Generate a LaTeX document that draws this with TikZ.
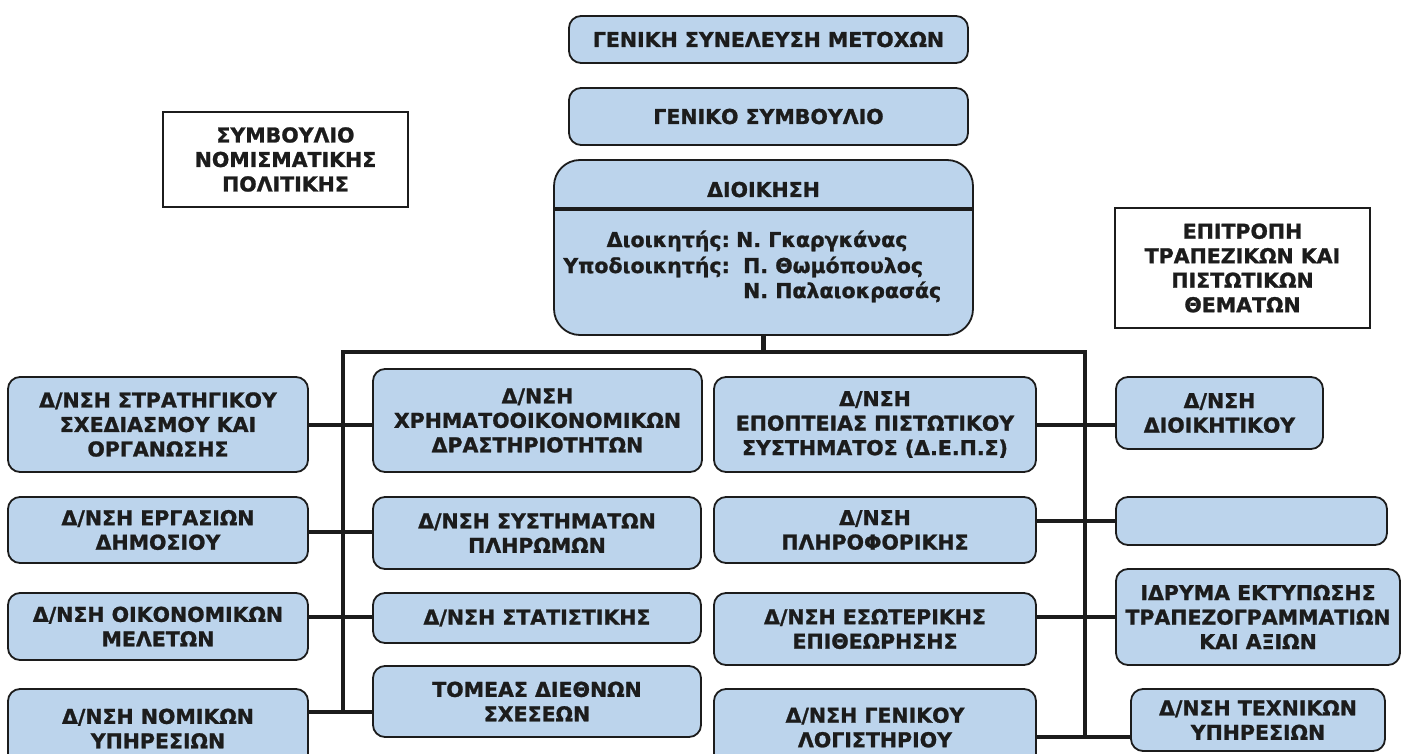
\documentclass[tikz,border=0pt]{standalone}
\usepackage{fontspec}
\setmainfont{DejaVu Sans}[BoldFeatures={FakeBold=1.2}]
\definecolor{boxblue}{RGB}{188,212,236}
\definecolor{ink}{RGB}{28,28,28}
\tikzset{
  box/.style={draw=ink, line width=1.8pt, fill=boxblue, rounded corners=12pt,
    align=center, inner sep=0pt, text=ink,
    font=\bfseries\fontsize{20.5}{24.5}\selectfont},
  bigbox/.style={box, rounded corners=26pt},
  plainbox/.style={draw=ink, line width=1.5pt, fill=white, align=center,
    inner sep=0pt, text=ink, font=\bfseries\fontsize{20.5}{24.5}\selectfont},
  txt/.style={inner sep=0pt, text=ink, font=\bfseries\fontsize{20.5}{24.5}\selectfont},
  conn/.style={draw=ink, line width=4.8pt},
}
\newcommand\obox[7][box]{%
  \pgfmathsetmacro\bxw{#5-#3}\pgfmathsetmacro\bxh{#6-#4}%
  \pgfmathsetmacro\bxx{(#3+#5)/2}\pgfmathsetmacro\bxy{(#4+#6)/2}%
  \node[#1,minimum width=\bxw pt,minimum height=\bxh pt] (#2) at (\bxx,\bxy) {#7};}
\begin{document}
\begin{tikzpicture}[x=1pt,y=-1pt]
\useasboundingbox (0,0) rectangle (1411,754);
\clip (0,0) rectangle (1411,754);
\fill[white] (0,0) rectangle (1411,754);

% bus lines
\coordinate (busL) at (343,352);
\coordinate (busR) at (1085,352);
\coordinate (endL) at (343,712);
\coordinate (endR) at (1085,737);

% top boxes
\obox{gsm}{569}{16}{968}{63}{ΓΕΝΙΚΗ ΣΥΝΕΛΕΥΣΗ ΜΕΤΟΧΩΝ}
\obox{gs}{569}{88}{968}{145}{ΓΕΝΙΚΟ ΣΥΜΒΟΥΛΙΟ}
\obox[bigbox]{dioik}{554}{160}{973}{335}{}
\draw[conn] (dioik.west |- 0,209) -- (dioik.east |- 0,209);
\node[txt, anchor=base] (dtitle) at (763.5,197) {ΔΙΟΙΚΗΣΗ};
\node[txt, anchor=base east] (gov) at (730,247) {Διοικητής:};
\node[txt, anchor=base west] (govn) at (736,247) {Ν. Γκαργκάνας};
\node[txt, anchor=base east] (dgov) at (730,273) {Υποδιοικητής:};
\node[txt, anchor=base west] (dgovn1) at (743,273) {Π. Θωμόπουλος};
\node[txt, anchor=base west] (dgovn2) at (743,298) {Ν. Παλαιοκρασάς};

\obox[plainbox]{snp}{163}{112}{408}{207}{ΣΥΜΒΟΥΛΙΟ\\ΝΟΜΙΣΜΑΤΙΚΗΣ\\ΠΟΛΙΤΙΚΗΣ}
\obox[plainbox]{epit}{1115}{208}{1370}{328}{ΕΠΙΤΡΟΠΗ\\ΤΡΑΠΕΖΙΚΩΝ ΚΑΙ\\ΠΙΣΤΩΤΙΚΩΝ\\ΘΕΜΑΤΩΝ}

% connectors (drawn before the department boxes)
\draw[conn] (dioik.south) -- (dioik.south |- busL);
\draw[conn] (endL) -- (busL) -- (busR) -- (endR);

% row 1
\obox{l1}{8}{377}{308}{472}{Δ/ΝΣΗ ΣΤΡΑΤΗΓΙΚΟΥ\\ΣΧΕΔΙΑΣΜΟΥ ΚΑΙ\\ΟΡΓΑΝΩΣΗΣ}
\obox{m1}{373}{369}{702}{472}{Δ/ΝΣΗ\\ΧΡΗΜΑΤΟΟΙΚΟΝΟΜΙΚΩΝ\\ΔΡΑΣΤΗΡΙΟΤΗΤΩΝ}
\obox{r1}{714}{377}{1036}{472}{Δ/ΝΣΗ\\ΕΠΟΠΤΕΙΑΣ ΠΙΣΤΩΤΙΚΟΥ\\ΣΥΣΤΗΜΑΤΟΣ (Δ.Ε.Π.Σ)}
\obox{f1}{1116}{377}{1323}{449}{Δ/ΝΣΗ\\ΔΙΟΙΚΗΤΙΚΟΥ}
% row 2
\obox{l2}{8}{497}{308}{563}{Δ/ΝΣΗ ΕΡΓΑΣΙΩΝ\\ΔΗΜΟΣΙΟΥ}
\obox{m2}{373}{497}{701}{569}{Δ/ΝΣΗ ΣΥΣΤΗΜΑΤΩΝ\\ΠΛΗΡΩΜΩΝ}
\obox{r2}{714}{497}{1036}{563}{Δ/ΝΣΗ\\ΠΛΗΡΟΦΟΡΙΚΗΣ}
\obox{f2}{1116}{497}{1387}{545}{}
% row 3
\obox{l3}{8}{593}{308}{660}{Δ/ΝΣΗ ΟΙΚΟΝΟΜΙΚΩΝ\\ΜΕΛΕΤΩΝ}
\obox{m3}{373}{593}{701}{643}{Δ/ΝΣΗ ΣΤΑΤΙΣΤΙΚΗΣ}
\obox{r3}{714}{593}{1036}{665}{Δ/ΝΣΗ ΕΣΩΤΕΡΙΚΗΣ\\ΕΠΙΘΕΩΡΗΣΗΣ}
\obox{f3}{1116}{569}{1400}{665}{ΙΔΡΥΜΑ ΕΚΤΥΠΩΣΗΣ\\ΤΡΑΠΕΖΟΓΡΑΜΜΑΤΙΩΝ\\ΚΑΙ ΑΞΙΩΝ}
% row 4
\obox{l4}{8}{689}{308}{768}{Δ/ΝΣΗ ΝΟΜΙΚΩΝ\\ΥΠΗΡΕΣΙΩΝ}
\obox{m4}{373}{666}{701}{737}{ΤΟΜΕΑΣ ΔΙΕΘΝΩΝ\\ΣΧΕΣΕΩΝ}
\obox{r4}{714}{689}{1036}{766}{Δ/ΝΣΗ ΓΕΝΙΚΟΥ\\ΛΟΓΙΣΤΗΡΙΟΥ}
\obox{f4}{1131}{689}{1385}{751}{Δ/ΝΣΗ ΤΕΧΝΙΚΩΝ\\ΥΠΗΡΕΣΙΩΝ}

% branch connectors
\draw[conn] (l1.east |- 0,425) -- (m1.west |- 0,425);
\draw[conn] (r1.east |- 0,425) -- (f1.west |- 0,425);
\draw[conn] (l2.east |- 0,532) -- (m2.west |- 0,532);
\draw[conn] (r2.east |- 0,521) -- (f2.west |- 0,521);
\draw[conn] (l3.east |- 0,617) -- (m3.west |- 0,617);
\draw[conn] (r3.east |- 0,617) -- (f3.west |- 0,617);
\draw[conn] (l4.east |- endL) -- (m4.west |- endL);
\draw[conn] (r4.east |- endR) -- (f4.west |- endR);
\end{tikzpicture}
\end{document}
